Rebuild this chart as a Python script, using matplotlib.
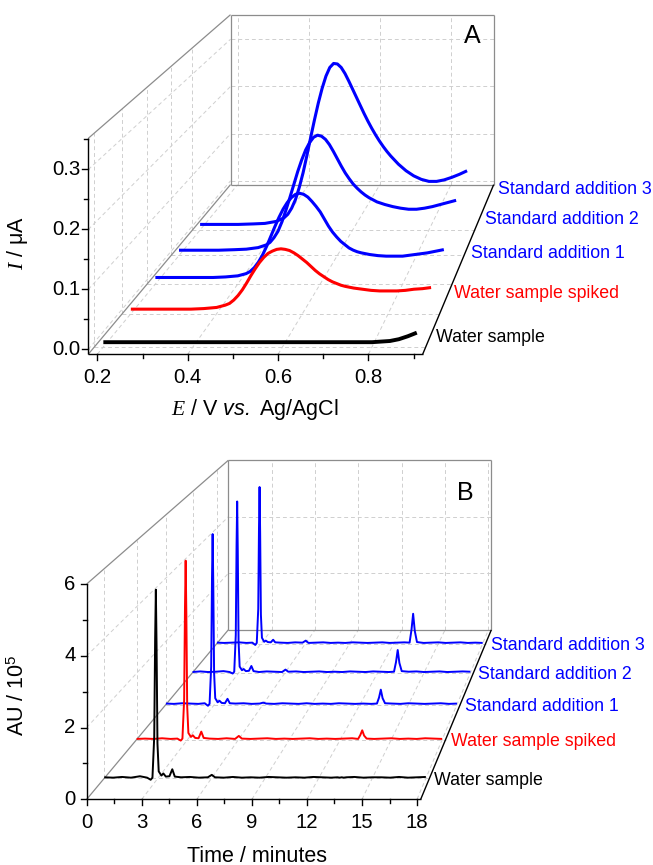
#!/usr/bin/env python3
"""Waterfall 3D (A: voltametria, B: cromatogramas) redesenhado num eixo 2D
com projeção em perspectiva de um ponto de fuga, como no Origin."""
import numpy as np
import matplotlib
matplotlib.use("Agg")
import matplotlib.pyplot as plt

plt.rcParams["font.family"] = ["Liberation Sans", "DejaVu Sans"]
plt.rcParams["mathtext.fontset"] = "custom"
plt.rcParams["mathtext.rm"] = "Liberation Sans"
plt.rcParams["mathtext.it"] = "Liberation Serif:italic"
plt.rcParams["mathtext.sf"] = "Liberation Sans:italic"

SERIES = ["Water sample", "Water sample spiked", "Standard addition 1",
          "Standard addition 2", "Standard addition 3"]
COLORS = ["black", "#ff0000", "#0000ff", "#0000ff", "#0000ff"]

# ---- painel A: voltamogramas (E / V, I / uA)
E_V = [0.20, 0.25, 0.30, 0.34, 0.37, 0.40,
       0.42, 0.43, 0.44, 0.45, 0.46, 0.47, 0.48, 0.49, 0.50, 0.51, 0.52, 0.53,
       0.54, 0.55, 0.56, 0.57, 0.58, 0.59, 0.60, 0.61, 0.62, 0.63, 0.64, 0.65,
       0.66, 0.67, 0.68, 0.69, 0.70,
       0.72, 0.74, 0.76, 0.78, 0.80, 0.82, 0.84, 0.86, 0.88, 0.90]
I_WATER = [0.0, 0.0, 0.0, 0.0, 0.0, 0.0,
           0.0, 0.0, 0.0, 0.0, 0.0, 0.0, 0.0, 0.0, 0.0, 0.0, 0.0, 0.0,
           0.0, 0.0, 0.0, 0.0, 0.0, 0.0, 0.0, 0.0, 0.0, 0.0, 0.0, 0.0,
           0.0, 0.0, 0.0, 0.0, 0.0,
           0.0, 0.0, 0.0, 0.0, 0.0, 0.001, 0.002, 0.005, 0.010, 0.016]
I_SPIKED = [0.000, 0.000, 0.000, 0.000, 0.001, 0.003,
            0.007, 0.010, 0.016, 0.024, 0.034, 0.046, 0.059, 0.071, 0.082, 0.091,
            0.098, 0.102, 0.105, 0.106, 0.105, 0.103, 0.099, 0.094, 0.088, 0.082,
            0.075, 0.068, 0.062, 0.057, 0.052, 0.048, 0.045, 0.042, 0.040,
            0.037, 0.035, 0.033, 0.032, 0.032, 0.032, 0.033, 0.035, 0.036, 0.038]
I_SA1 = [0.004, 0.004, 0.004, 0.004, 0.005, 0.007,
         0.011, 0.015, 0.022, 0.032, 0.045, 0.061, 0.079, 0.097, 0.114, 0.129,
         0.141, 0.150, 0.156, 0.158, 0.156, 0.151, 0.143, 0.134, 0.124, 0.111,
         0.098, 0.087, 0.078, 0.070, 0.064, 0.058, 0.054, 0.051, 0.049,
         0.046, 0.044, 0.043, 0.043, 0.043, 0.045, 0.047, 0.049, 0.052, 0.055]
I_SA2 = [0.002, 0.002, 0.002, 0.003, 0.004, 0.007,
         0.012, 0.017, 0.026, 0.038, 0.056, 0.078, 0.102, 0.127, 0.152, 0.174,
         0.193, 0.207, 0.217, 0.221, 0.219, 0.213, 0.203, 0.190, 0.176, 0.162,
         0.149, 0.138, 0.128, 0.120, 0.113, 0.107, 0.102, 0.098, 0.094,
         0.089, 0.085, 0.082, 0.080, 0.080, 0.082, 0.085, 0.089, 0.093, 0.097]
I_SA3 = [0.003, 0.003, 0.003, 0.004, 0.005, 0.009,
         0.016, 0.023, 0.035, 0.052, 0.076, 0.105, 0.139, 0.175, 0.210, 0.243,
         0.272, 0.296, 0.313, 0.321, 0.320, 0.313, 0.301, 0.286, 0.270, 0.254,
         0.238, 0.222, 0.207, 0.193, 0.180, 0.168, 0.157, 0.147, 0.138,
         0.122, 0.109, 0.099, 0.092, 0.088, 0.088, 0.091, 0.096, 0.102, 0.109]
A_DEPTH = [0.034, 0.198, 0.357, 0.523, 0.683]
A_LABEL_DEPTH = [0.090, 0.317, 0.548, 0.766, 0.979]

# ---- painel B: cromatogramas (min, AU / 1e5)
T_MIN = [0.0, 0.5, 1.0, 1.5, 2.0, 2.4, 2.6, 2.70, 2.80, 2.85, 2.89, 2.93, 2.98,
         3.05, 3.20, 3.31, 3.45, 3.65, 3.81, 3.95, 4.3, 4.8, 5.3, 5.8, 6.02, 6.2,
         6.7, 7.2, 7.7, 8.2, 8.7, 9.2, 9.7, 10.2, 10.7, 11.2, 11.7, 12.2, 12.7,
         13.05, 13.18, 13.29, 13.40, 13.55, 14.0, 14.5, 15.0, 15.5, 16.0, 16.5,
         17.0, 17.5, 18.0]
AU_WATER = [0.03, 0.02, 0.04, 0.02, 0.06, 0.02, -0.04, 0.02, 1.20, 4.00, 5.40,
            3.80, 1.00, 0.20, 0.08, 0.14, 0.05, 0.06, 0.26, 0.05, 0.03, 0.04,
            0.02, 0.03, 0.10, 0.03, 0.02, 0.04, 0.02, 0.03, 0.02, 0.04, 0.03,
            0.02, 0.03, 0.02, 0.04, 0.03, 0.02, 0.03, 0.02, 0.03, 0.02, 0.03,
            0.04, 0.02, 0.03, 0.03, 0.02, 0.04, 0.02, 0.03, 0.04]
AU_SPIKED = [0.02, 0.03, 0.02, 0.04, 0.02, 0.03, -0.03, 0.03, 1.20, 4.00, 5.39,
             3.80, 1.00, 0.20, 0.08, 0.13, 0.05, 0.04, 0.24, 0.05, 0.03, 0.02,
             0.04, 0.02, 0.11, 0.03, 0.02, 0.03, 0.04, 0.02, 0.03, 0.02, 0.03,
             0.04, 0.02, 0.03, 0.02, 0.03, 0.04, 0.02, 0.14, 0.28, 0.12, 0.03,
             0.02, 0.03, 0.04, 0.02, 0.03, 0.02, 0.04, 0.03, 0.02]
AU_SA1 = [0.03, 0.02, 0.04, 0.03, 0.02, 0.04, -0.04, 0.02, 1.20, 4.00, 5.39,
          3.80, 1.00, 0.20, 0.07, 0.12, 0.05, 0.04, 0.18, 0.04, 0.03, 0.04,
          0.02, 0.03, 0.06, 0.03, 0.02, 0.04, 0.03, 0.02, 0.04, 0.02, 0.03,
          0.02, 0.04, 0.03, 0.02, 0.03, 0.02, 0.03, 0.22, 0.47, 0.20, 0.04,
          0.03, 0.02, 0.04, 0.03, 0.02, 0.03, 0.04, 0.02, 0.03]
AU_SA2 = [0.02, 0.04, 0.02, 0.03, 0.05, 0.02, -0.03, 0.03, 1.25, 4.20, 5.67,
          4.00, 1.05, 0.20, 0.08, 0.12, 0.05, 0.06, 0.22, 0.05, 0.02, 0.04,
          0.03, 0.02, 0.10, 0.03, 0.04, 0.02, 0.03, 0.04, 0.02, 0.03, 0.02,
          0.04, 0.03, 0.02, 0.04, 0.03, 0.02, 0.03, 0.35, 0.75, 0.32, 0.05,
          0.03, 0.04, 0.02, 0.03, 0.04, 0.02, 0.03, 0.04, 0.03]
AU_SA3 = [0.03, 0.02, 0.03, 0.04, 0.02, 0.03, -0.05, 0.02, 1.20, 4.00, 5.42,
          3.80, 1.00, 0.20, 0.06, 0.10, 0.05, 0.04, 0.13, 0.04, 0.03, 0.02,
          0.04, 0.03, 0.10, 0.02, 0.03, 0.04, 0.02, 0.03, 0.02, 0.04, 0.03,
          0.02, 0.03, 0.04, 0.02, 0.03, 0.04, 0.03, 0.48, 1.03, 0.44, 0.05,
          0.02, 0.03, 0.04, 0.02, 0.03, 0.04, 0.02, 0.03, 0.02]
B_DEPTH = [0.1, 0.3, 0.5, 0.7, 0.9]

GRID = dict(color="#cfcfcf", lw=0.7, ls=(0, (4, 3)), zorder=1)
WALL = dict(color="#8c8c8c", lw=0.9, zorder=2)
AXIS = dict(color="black", lw=1.0, zorder=6)


class Box:
    """Caixa 3D: face frontal em pixels + ponto de fuga (vx, vy)."""

    def __init__(self, face, xlim, ylim, vp, s_back):
        self.l, self.r, self.t, self.b = face
        self.xlim, self.ylim = xlim, ylim
        self.vx, self.vy = vp
        self.k = 1.0 / s_back - 1.0

    def __call__(self, x, y, d):
        x = np.asarray(x, float)
        y = np.asarray(y, float)
        xf = self.l + (x - self.xlim[0]) / (self.xlim[1] - self.xlim[0]) * (self.r - self.l)
        yf = self.b - (y - self.ylim[0]) / (self.ylim[1] - self.ylim[0]) * (self.b - self.t)
        s = 1.0 / (1.0 + self.k * np.asarray(d, float))
        return self.vx + (xf - self.vx) * s, self.vy + (yf - self.vy) * s


def seg(ax, P, p0, p1, **kw):
    x0, y0 = P(*p0)
    x1, y1 = P(*p1)
    ax.plot([x0, x1], [y0, y1], solid_capstyle="butt", **kw)


def panel(ax, P, xs, ys, depths, lab_depths, lws, xmaj, xmin_, xlab, ymaj, ymin_,
          ylab, letter, letter_xy, xlabel, xlabel_xy, ylabel, ylabel_xy, ytick_pad):
    x0, x1 = P.xlim
    y0, y1 = P.ylim
    # grelha tracejada: parede do fundo, parede esquerda, chão
    for xv in xmaj:
        if x0 < xv < x1:
            seg(ax, P, (xv, y0, 1), (xv, y1, 1), **GRID)
            seg(ax, P, (xv, y0, 0), (xv, y0, 1), **GRID)
    for yv in ymaj:
        if y0 < yv < y1:
            seg(ax, P, (x0, yv, 1), (x1, yv, 1), **GRID)
            seg(ax, P, (x0, yv, 0), (x0, yv, 1), **GRID)
    for d in depths:
        seg(ax, P, (x0, y0, d), (x0, y1, d), **GRID)
        seg(ax, P, (x0, y0, d), (x1, y0, d), **GRID)
    # arestas cinzentas das paredes
    for a, b in [((x0, y0, 1), (x1, y0, 1)), ((x1, y0, 1), (x1, y1, 1)),
                 ((x1, y1, 1), (x0, y1, 1)), ((x0, y1, 1), (x0, y0, 1)),
                 ((x0, y1, 0), (x0, y1, 1)), ((x0, y0, 0), (x0, y0, 1))]:
        seg(ax, P, a, b, **WALL)
    # séries, do fundo para a frente
    for i in reversed(range(len(xs))):
        X, Y = P(xs[i], ys[i], depths[i])
        ax.plot(X, Y, color=COLORS[i], lw=lws[i], solid_joinstyle="round",
                solid_capstyle="butt", zorder=3 + 0.1 * (5 - i))
        lx, ly = P(x1, y0, lab_depths[i])
        ax.text(lx + 5, ly + 2, SERIES[i], color=COLORS[i], fontsize=12.8,
                ha="left", va="center", zorder=7)
    # eixos frontais pretos
    seg(ax, P, (x0, y0, 0), (x0, y1, 0), **AXIS)
    seg(ax, P, (x0, y0, 0), (x1, y0, 0), **AXIS)
    seg(ax, P, (x1, y0, 0), (x1, y0, 1), **AXIS)
    # ticks
    for xv, lab in zip(xmaj, xlab):
        X, Y = P(xv, y0, 0)
        ax.plot([X, X], [Y, Y + 6], **AXIS)
        ax.text(X, Y + 23, lab, fontsize=14.7, ha="center", va="center")
    for xv in xmin_:
        X, Y = P(xv, y0, 0)
        ax.plot([X, X], [Y, Y + 4], **AXIS)
    for yv, lab in zip(ymaj, ylab):
        X, Y = P(x0, yv, 0)
        ax.plot([X, X - 6], [Y, Y], **AXIS)
        ax.text(X - ytick_pad, Y, lab, fontsize=14.7, ha="right", va="center")
    for yv in ymin_:
        X, Y = P(x0, yv, 0)
        ax.plot([X, X - 4], [Y, Y], **AXIS)
    ax.text(*letter_xy, letter, fontsize=18, ha="center", va="center")
    ax.text(*xlabel_xy, xlabel, fontsize=15.5, ha="center", va="center")
    ax.text(*ylabel_xy, ylabel, fontsize=15.5, ha="center", va="center",
            rotation=90)


def main():
    fig = plt.figure(figsize=(6.53, 8.65), dpi=100)
    ax = fig.add_axes([0, 0, 1, 1])
    ax.set_xlim(0, 653)
    ax.set_ylim(865, 0)
    ax.axis("off")

    PA = Box((88.3, 422.7, 138.3, 354.2), (0.18, 0.92), (-0.008, 0.352),
             (756, -442), 0.787)
    panel(ax, PA, [E_V] * 5, [I_WATER, I_SPIKED, I_SA1, I_SA2, I_SA3],
          A_DEPTH, A_LABEL_DEPTH, [2.8, 2.2, 2.2, 2.2, 2.2],
          [0.2, 0.4, 0.6, 0.8], [0.3, 0.5, 0.7, 0.9], ["0.2", "0.4", "0.6", "0.8"],
          [0.0, 0.1, 0.2, 0.3], [0.05, 0.15, 0.25, 0.35],
          ["0.0", "0.1", "0.2", "0.3"], "A", (472, 36),
          r"$\mathit{E}$ / V $\mathsf{vs.}$ Ag/AgCl", (255, 410),
          r"$\mathit{I}$ / μA", (18, 243), 8)

    PB = Box((86.7, 420.7, 584.0, 799.3), (0.0, 18.2), (0.0, 6.0),
             (753, 2), 0.7875)
    panel(ax, PB, [T_MIN] * 5, [AU_WATER, AU_SPIKED, AU_SA1, AU_SA2, AU_SA3],
          B_DEPTH, B_DEPTH, [1.4] * 5,
          [0, 3, 6, 9, 12, 15, 18], [1.5, 4.5, 7.5, 10.5, 13.5, 16.5],
          ["0", "3", "6", "9", "12", "15", "18"],
          [0, 2, 4, 6], [1, 3, 5], ["0", "2", "4", "6"], "B", (465, 492.5),
          "Time / minutes", (257, 856), r"AU / 10$^{5}$", (18, 695), 11)

    fig.savefig("out.png", dpi=100)


if __name__ == "__main__":
    main()
